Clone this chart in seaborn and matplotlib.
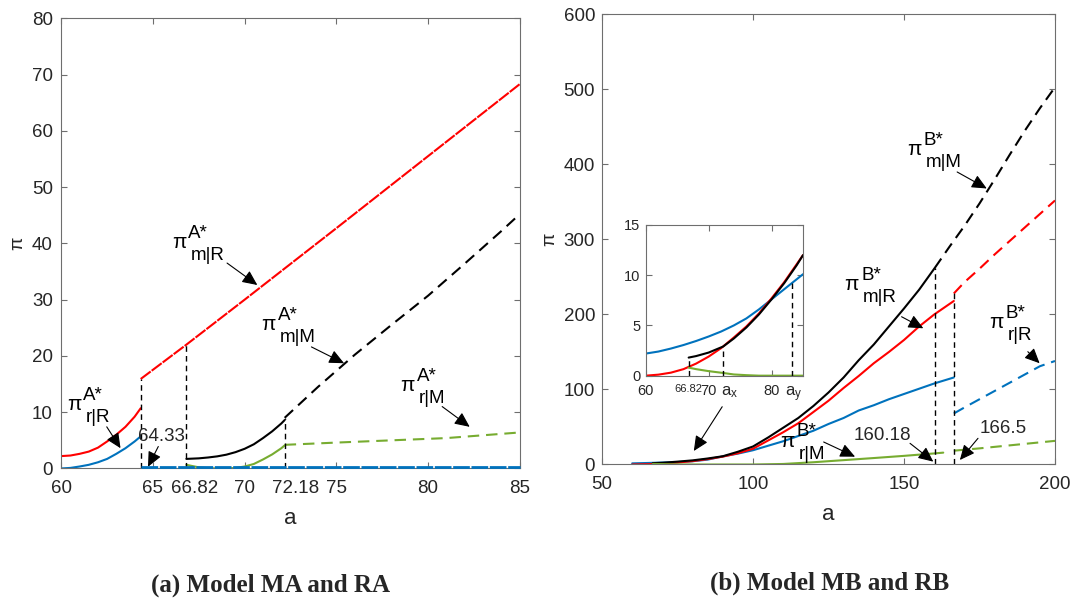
import numpy as np
import matplotlib
matplotlib.use("Agg")
import matplotlib.pyplot as plt
import seaborn as sns

# ---------------- panel (a): model MA and RA ----------------
a_R1 = [60, 60.5, 61, 61.5, 62, 62.5, 63, 63.5, 64, 64.33]
pi_mR_1 = [2.2, 2.3, 2.6, 3.0, 3.7, 4.8, 6.0, 7.4, 9.2, 10.7]
pi_rR_1 = [0, 0.1, 0.35, 0.65, 1.1, 1.7, 2.6, 3.6, 4.8, 5.7]
a_R2 = [64.33, 66.82, 70, 75, 80, 85]
pi_mR_2 = [15.9, 22.0, 30.0, 42.7, 55.5, 68.3]
a_rR_2 = [64.33, 85]
pi_rR_2 = [0.2, 0.2]
a_M1 = [66.82, 67.5, 68, 68.5, 69, 69.5, 70, 70.5, 71, 71.5, 72, 72.18]
pi_mM_1 = [1.7, 1.8, 1.95, 2.15, 2.45, 2.9, 3.5, 4.3, 5.4, 6.6, 8.0, 8.6]
pi_rM_1 = [0.65, 0.2, 0.05, 0, 0, 0.1, 0.35, 0.8, 1.6, 2.5, 3.6, 4.1]
a_mM_2 = [72.18, 74, 76, 78, 80, 82, 84, 85]
pi_mM_2 = [9.0, 14.5, 20.2, 25.5, 30.7, 36.4, 42.2, 45.2]
a_rM_2 = [72.18, 75, 78, 81, 85]
pi_rM_2 = [4.2, 4.6, 5.0, 5.4, 6.4]
cuts_a = [64.33, 66.82, 72.18]
cuts_a_top = [15.9, 22.0, 8.9]

# ---------------- panel (b): model MB and RB ----------------
a_b = [60, 65, 70, 75, 80, 85, 90, 95, 100, 105, 110, 115, 120, 125, 130,
       135, 140, 145, 150, 155, 160, 166.5]
pi_mR_b = [0, 0.4, 1.3, 2.6, 4.5, 7.2, 10.5, 15, 21, 32, 43, 55, 70, 85, 102,
           118, 135, 150, 166, 184, 200, 218]
pi_rR_b = [1.5, 2.0, 2.6, 3.2, 4.3, 6.5, 10.8, 14.5, 19, 25, 31, 38, 45, 54, 62,
           72, 79, 87, 94, 101, 108, 116]
a_mM_b = [66.82, 70, 75, 80, 85, 90, 95, 100, 105, 110, 115, 120, 125, 130,
          135, 140, 145, 150, 155, 160.18]
pi_mM_b = [1.8, 2.3, 3.8, 5.5, 8, 11, 17, 24, 36, 49, 62, 78, 96, 116,
           139, 160, 184, 208, 233, 262]
a_rM_b = [66.82, 75, 80, 100, 110, 120, 130, 140, 150, 160.18, 163]
pi_rM_b = [0.8, 0.1, 0, 0, 0.7, 3, 5.8, 8.6, 11.5, 14.8, 15.8]
a_mM_b2 = [160.18, 165, 170, 175, 180, 185, 190, 195, 200]
pi_mM_b2 = [262, 290, 318, 348, 380, 413, 445, 475, 503]
a_R_b2 = [166.5, 170, 175, 180, 185, 190, 195, 200]
pi_mR_b2 = [228, 243, 261, 280, 298, 316, 334, 352]
pi_rR_b2 = [68, 76, 87, 98, 109, 120, 131, 138]
a_rM_b2 = [166.5, 175, 185, 195, 200]
pi_rM_b2 = [18.4, 21.5, 25.5, 29.5, 31.5]
cuts_b = [160.18, 166.5]
cuts_b_top = [262, 228]

# ---------------- inset of panel (b) ----------------
a_in = [60, 62, 64, 66, 68, 70, 72, 74, 76, 78, 80, 82, 84, 85]
pi_mR_in = [0, 0.1, 0.3, 0.65, 1.2, 1.9, 2.75, 3.8, 4.9, 6.2, 7.7, 9.3, 11.1, 12.0]
pi_rR_in = [2.2, 2.4, 2.7, 3.05, 3.45, 3.9, 4.4, 5.0, 5.7, 6.6, 7.6, 8.6, 9.6, 10.1]
a_in_m = [66.82, 68, 70, 72.3, 74, 76, 78, 80, 82, 84, 85]
pi_mM_in = [1.8, 1.95, 2.3, 2.9, 3.7, 4.8, 6.1, 7.6, 9.2, 11.0, 12.0]
pi_rM_in = [0.8, 0.65, 0.45, 0.27, 0.12, 0.05, 0, 0, 0, 0, 0]
cuts_in = [66.82, 72.3, 83.2]
cuts_in_top = [1.85, 2.9, 9.2]

RED = "#FF0000"
BLUE = "#0072BD"
GREEN = "#77AC30"
BLACK = "#000000"
DASH = (0, (5.5, 3.3))
NEARSOLID = (0, (6, 0.6))
VDASH = (0, (4, 3))
AXC = "#6e6e6e"
TXT = "#262626"

sns.set_style("ticks")
plt.rcParams["font.family"] = ["Liberation Sans", "DejaVu Sans"]
plt.rcParams["mathtext.fontset"] = "custom"
plt.rcParams["mathtext.rm"] = "Liberation Sans"
plt.rcParams["mathtext.it"] = "Liberation Sans"
plt.rcParams["mathtext.bf"] = "Liberation Sans:bold"


def seg(ax, x, y, color, ls="-", lw=1.5, **kw):
    sns.lineplot(x=x, y=y, ax=ax, color=color, linestyle=ls, linewidth=lw,
                 estimator=None, sort=False, legend=False, **kw)


def cuts(ax, xs, tops):
    for x, t in zip(xs, tops):
        ax.plot([x, x], [0, t], color="k", lw=1.0, linestyle=VDASH)


def arrow(ax, tail, head):
    ax.annotate("", xy=head, xytext=tail,
                arrowprops=dict(arrowstyle="-|>,head_length=0.65,head_width=0.3",
                                color="k", lw=0.8, shrinkA=0, shrinkB=0,
                                mutation_scale=14))


def pilabel(ax, pos, sup, sub):
    # pos = centre of the pi glyph, super/subscript placed like MATLAB tex
    ax.annotate("π", xy=pos, xytext=(0, -3.6), textcoords="offset points",
                fontsize=15, ha="center", va="baseline", color="k")
    ax.annotate(sup, xy=pos, xytext=(6.8, 3.8), textcoords="offset points",
                fontsize=13.5, ha="left", va="baseline", color="k")
    ax.annotate(sub, xy=pos, xytext=(8.2, -12.2), textcoords="offset points",
                fontsize=13.5, ha="left", va="baseline", color="k")


def style(ax, labelsize=13.5, pad=8.5, ypad=6):
    for s in ax.spines.values():
        s.set_visible(True)
        s.set_color(AXC)
        s.set_linewidth(0.8)
    ax.tick_params(which="both", direction="in", top=True, right=True,
                   length=4, width=0.8, color=AXC, labelcolor=TXT,
                   labelsize=labelsize)
    ax.tick_params(axis="x", which="both", pad=pad)
    ax.tick_params(axis="y", pad=ypad)


fig = plt.figure(figsize=(10.75, 6.03), dpi=100)

# ---- panel (a)
ax1 = fig.add_axes([0.0570, 0.2231, 0.4265, 0.7466])
seg(ax1, a_R1, pi_mR_1, RED)
seg(ax1, a_R1, pi_rR_1, BLUE)
seg(ax1, a_R2, pi_mR_2, RED, NEARSOLID)
seg(ax1, a_rR_2, pi_rR_2, BLUE, NEARSOLID, lw=2, clip_on=False, zorder=5)
seg(ax1, a_M1, pi_mM_1, BLACK)
seg(ax1, a_M1, pi_rM_1, GREEN)
seg(ax1, a_mM_2, pi_mM_2, BLACK, DASH)
seg(ax1, a_rM_2, pi_rM_2, GREEN, DASH)
cuts(ax1, cuts_a, cuts_a_top)
ax1.set_xlim(60, 85)
ax1.set_ylim(0, 80)
ax1.set_xticks([60, 65, 70, 75, 80, 85])
ax1.set_yticks(range(0, 81, 10))
ax1.set_xticks([67.26, 72.76], ["66.82", "72.18"], minor=True)
style(ax1)
ax1.tick_params(axis="x", which="minor", length=0)
ax1.set_xlabel("a", fontsize=16, color=TXT, labelpad=8)
ax1.set_ylabel("π", fontsize=14, color=TXT, labelpad=4)

pilabel(ax1, (66.42, 40.0), "A*", "m|R")
arrow(ax1, (69.04, 36.5), (70.69, 32.6))
pilabel(ax1, (71.29, 25.5), "A*", "m|M")
arrow(ax1, (73.64, 21.6), (75.42, 18.7))
pilabel(ax1, (78.89, 14.6), "A*", "r|M")
arrow(ax1, (80.77, 11.0), (82.27, 7.4))
pilabel(ax1, (60.69, 11.3), "A*", "r|R")
arrow(ax1, (62.48, 7.4), (63.23, 3.6))
ax1.text(65.45, 5.7, "64.33", fontsize=13.5, ha="center", va="center")
arrow(ax1, (65.29, 3.9), (64.73, 0.3))

# ---- panel (b)
ax2 = fig.add_axes([0.5600, 0.2297, 0.4214, 0.7463])
seg(ax2, a_b, pi_rR_b, BLUE)
seg(ax2, a_b, pi_mR_b, RED)
seg(ax2, a_mM_b, pi_mM_b, BLACK)
seg(ax2, a_rM_b, pi_rM_b, GREEN)
seg(ax2, a_mM_b2, pi_mM_b2, BLACK, DASH)
seg(ax2, a_R_b2, pi_mR_b2, RED, DASH)
seg(ax2, a_R_b2, pi_rR_b2, BLUE, DASH)
seg(ax2, a_rM_b2, pi_rM_b2, GREEN, DASH)
cuts(ax2, cuts_b, cuts_b_top)
ax2.set_xlim(50, 200)
ax2.set_ylim(0, 600)
ax2.set_xticks([50, 100, 150, 200])
ax2.set_yticks(range(0, 601, 100))
style(ax2, ypad=5)
ax2.set_xlabel("a", fontsize=16, color=TXT, labelpad=8)
ax2.set_ylabel("π", fontsize=14, color=TXT, labelpad=4)

pilabel(ax2, (153.3, 419), "B*", "m|M")
arrow(ax2, (167.6, 390), (177.4, 368))
pilabel(ax2, (132.7, 239), "B*", "m|R")
arrow(ax2, (149.2, 197), (156.4, 181.6))
pilabel(ax2, (180.6, 188), "B*", "r|R")
arrow(ax2, (191, 150.4), (194.9, 135))
pilabel(ax2, (111.3, 30.4), "B*", "r|M")
arrow(ax2, (123.4, 30), (133.8, 10.4))
ax2.text(142.8, 39.3, "160.18", fontsize=13.5, ha="center", va="center")
arrow(ax2, (152, 28.2), (159.7, 3.8))
ax2.text(183, 48.2, "166.5", fontsize=13.5, ha="center", va="center")
arrow(ax2, (174.5, 34.9), (168.5, 6))
arrow(ax2, (89.8, 77), (80.4, 18))

# ---- inset
ax3 = fig.add_axes([0.6007, 0.3770, 0.1463, 0.2499])
seg(ax3, a_in, pi_rR_in, BLUE)
seg(ax3, a_in, pi_mR_in, RED)
seg(ax3, a_in_m, pi_mM_in, BLACK)
seg(ax3, a_in_m, pi_rM_in, GREEN)
cuts(ax3, cuts_in, cuts_in_top)
ax3.set_xlim(60, 85)
ax3.set_ylim(0, 15)
ax3.set_xticks([60, 70, 80])
ax3.set_yticks([0, 5, 10, 15])
ax3.set_xticks([66.82, 73.3, 83.5], ["66.82", r"$a_x$", r"$a_y$"], minor=True)
style(ax3, labelsize=10.5, pad=6, ypad=4)
ax3.tick_params(axis="x", which="minor", length=0)
for lab in ax3.get_xticklabels(minor=True):
    lab.set_fontsize(12)
ax3.get_xticklabels(minor=True)[0].set_fontsize(8)

fig.text(0.2512, 1 - 585 / 603, "(a) Model MA and RA", fontsize=18, fontweight="bold",
         family="Liberation Serif", ha="center", va="center")
fig.text(0.7721, 1 - 583 / 603, "(b) Model MB and RB", fontsize=18, fontweight="bold",
         family="Liberation Serif", ha="center", va="center")

fig.savefig("out.png", dpi=100)
